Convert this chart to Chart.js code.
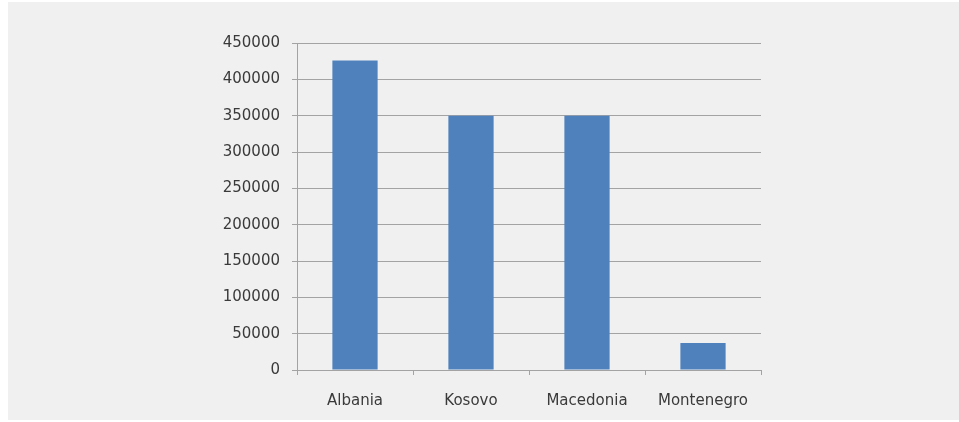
<!DOCTYPE html>
<html>
<head>
<meta charset="utf-8">
<script src="https://cdn.jsdelivr.net/npm/chart.js@4/dist/chart.umd.min.js"></script>
<style>
    html, body { margin: 0; padding: 0; background: #ffffff; }
    #panel {
        position: absolute; left: 8px; top: 2px;
        width: 951px; height: 418px;
        background: #f0f0f0;
    }
    #population-chart { position: absolute; left: 0; top: 0; }
</style>
</head>
<body>
<div id="panel"></div>
<canvas id="population-chart" width="959" height="422"></canvas>
<script>
(function () {
    const countries = ["Albania", "Kosovo", "Macedonia", "Montenegro"];
    const population = [426000, 350000, 350000, 37000];
    const yTicks = [0, 50000, 100000, 150000, 200000, 250000, 300000, 350000, 400000, 450000];

    const lineColor = '#a3a3a3';
    const ctx = document.getElementById('population-chart');

    new Chart(ctx, {
        type: 'bar',
        data: {
            labels: countries,
            datasets: [{
                data: population,
                backgroundColor: '#4f81bd',
                borderWidth: 0,
                categoryPercentage: 1.0,
                barPercentage: 0.39,
            }],
        },
        options: {
            responsive: false,
            animation: false,
            layout: {
                padding: { left: 0, right: 198, top: 43, bottom: 0 },
            },
            plugins: {
                legend: { display: false },
                tooltip: { enabled: false },
            },
            scales: {
                x: {
                    grid: {
                        drawOnChartArea: false,
                        drawTicks: true,
                        tickLength: 5,
                        color: lineColor,
                    },
                    border: { color: lineColor, width: 1 },
                    ticks: {
                        padding: 17,
                        color: '#3a3a3a',
                        font: { family: 'DejaVu Sans', size: 15 },
                    },
                    afterFit: scale => { scale.height = 52; },
                },
                y: {
                    min: 0,
                    max: yTicks[yTicks.length - 1],
                    afterBuildTicks: scale => {
                        scale.ticks = yTicks.map(v => ({ value: v }));
                    },
                    grid: {
                        color: lineColor,
                        tickLength: 5,
                    },
                    border: { color: lineColor, width: 1 },
                    ticks: {
                        padding: 12,
                        color: '#3a3a3a',
                        font: { family: 'DejaVu Sans', size: 15 },
                        callback: v => String(v), // plain digits, no thousands separator
                    },
                    afterFit: scale => { scale.width = 297; },
                },
            },
        },
    });
})();
</script>
</body>
</html>
